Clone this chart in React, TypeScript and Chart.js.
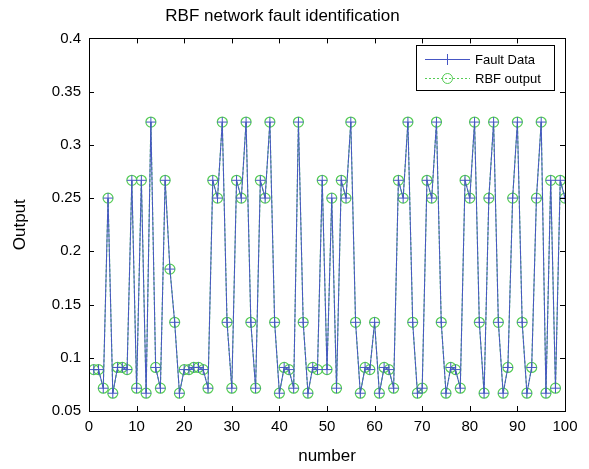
import React, { useEffect, useRef } from "react";
import { Chart, registerables } from "chart.js";

Chart.register(...registerables);

const numbers: number[] = Array.from({ length: 100 }, (_, i) => i + 1);

const faultData: number[] = [
  0.0889, 0.0889, 0.0714, 0.25, 0.0667, 0.0909, 0.0909, 0.0889, 0.2667, 0.0714,
  0.2667, 0.0667, 0.3214, 0.0909, 0.0714, 0.2667, 0.1833, 0.1333, 0.0667, 0.0889,
  0.0889, 0.0909, 0.0909, 0.0889, 0.0714, 0.2667, 0.25, 0.3214, 0.1333, 0.0714,
  0.2667, 0.25, 0.3214, 0.1333, 0.0714, 0.2667, 0.25, 0.3214, 0.1333, 0.0667,
  0.0909, 0.0889, 0.0714, 0.3214, 0.1333, 0.0667, 0.0909, 0.0889, 0.2667, 0.0889,
  0.25, 0.0714, 0.2667, 0.25, 0.3214, 0.1333, 0.0667, 0.0909, 0.0889, 0.1333,
  0.0667, 0.0909, 0.0889, 0.0714, 0.2667, 0.25, 0.3214, 0.1333, 0.0667, 0.0714,
  0.2667, 0.25, 0.3214, 0.1333, 0.0667, 0.0909, 0.0889, 0.0714, 0.2667, 0.25,
  0.3214, 0.1333, 0.0667, 0.25, 0.3214, 0.1333, 0.0667, 0.0909, 0.25, 0.3214,
  0.1333, 0.0667, 0.0909, 0.25, 0.3214, 0.0667, 0.2667, 0.0714, 0.2667, 0.25,
];

const rbfOutput: number[] = [
  0.0889, 0.0889, 0.0714, 0.25, 0.0667, 0.0909, 0.0909, 0.0889, 0.2667, 0.0714,
  0.2667, 0.0667, 0.3214, 0.0909, 0.0714, 0.2667, 0.1833, 0.1333, 0.0667, 0.0889,
  0.0889, 0.0909, 0.0909, 0.0889, 0.0714, 0.2667, 0.25, 0.3214, 0.1333, 0.0714,
  0.2667, 0.25, 0.3214, 0.1333, 0.0714, 0.2667, 0.25, 0.3214, 0.1333, 0.0667,
  0.0909, 0.0889, 0.0714, 0.3214, 0.1333, 0.0667, 0.0909, 0.0889, 0.2667, 0.0889,
  0.25, 0.0714, 0.2667, 0.25, 0.3214, 0.1333, 0.0667, 0.0909, 0.0889, 0.1333,
  0.0667, 0.0909, 0.0889, 0.0714, 0.2667, 0.25, 0.3214, 0.1333, 0.0667, 0.0714,
  0.2667, 0.25, 0.3214, 0.1333, 0.0667, 0.0909, 0.0889, 0.0714, 0.2667, 0.25,
  0.3214, 0.1333, 0.0667, 0.25, 0.3214, 0.1333, 0.0667, 0.0909, 0.25, 0.3214,
  0.1333, 0.0667, 0.0909, 0.25, 0.3214, 0.0667, 0.2667, 0.0714, 0.2667, 0.25,
];

const xTicks: number[] = [0, 10, 20, 30, 40, 50, 60, 70, 80, 90, 100];
const yTicks: number[] = [0.05, 0.1, 0.15, 0.2, 0.25, 0.3, 0.35, 0.4];

const titleText = "RBF network fault identification";
const xLabel = "number";
const yLabel = "Output";
const seriesNames = ["Fault Data", "RBF output"];

const BLUE = "#4656c4";
const GREEN = "#55cc55";
const FONT = "'Liberation Sans', Arial, sans-serif";

export default function App() {
  const ref = useRef<HTMLCanvasElement | null>(null);

  useEffect(() => {
    const canvas = ref.current;
    if (!canvas) return;

    const framePlugin = {
      id: "frame",
      afterDraw(chart: any) {
        const { ctx, chartArea } = chart;
        const { left, right, top, bottom } = chartArea;
        const xs = chart.scales.x;
        const ys = chart.scales.y;
        ctx.save();
        ctx.strokeStyle = "#000";
        ctx.lineWidth = 1;
        ctx.strokeRect(Math.round(left) + 0.5, Math.round(top) + 0.5, Math.round(right - left), Math.round(bottom - top));
        const tl = 5;
        ctx.beginPath();
        xTicks.forEach((v) => {
          const px = Math.round(xs.getPixelForValue(v)) + 0.5;
          ctx.moveTo(px, bottom);
          ctx.lineTo(px, bottom - tl);
          ctx.moveTo(px, top);
          ctx.lineTo(px, top + tl);
        });
        yTicks.forEach((v) => {
          const py = Math.round(ys.getPixelForValue(v)) + 0.5;
          ctx.moveTo(left, py);
          ctx.lineTo(left + tl, py);
          ctx.moveTo(right, py);
          ctx.lineTo(right - tl, py);
        });
        ctx.stroke();

        // legend box
        const bx = 416, by = 45, bw = 138, bh = 45;
        ctx.fillStyle = "#fff";
        ctx.fillRect(bx, by, bw, bh);
        ctx.strokeStyle = "#000";
        ctx.strokeRect(bx + 0.5, by + 0.5, bw, bh);
        const rows = [59, 78];
        ctx.strokeStyle = BLUE;
        ctx.lineWidth = 1;
        ctx.beginPath();
        ctx.moveTo(425, rows[0] + 0.5);
        ctx.lineTo(470, rows[0] + 0.5);
        ctx.moveTo(447.5, rows[0] - 5);
        ctx.lineTo(447.5, rows[0] + 6);
        ctx.stroke();
        ctx.strokeStyle = GREEN;
        ctx.setLineDash([2, 2]);
        ctx.beginPath();
        ctx.moveTo(425, rows[1] + 0.5);
        ctx.lineTo(470, rows[1] + 0.5);
        ctx.stroke();
        ctx.setLineDash([]);
        ctx.beginPath();
        ctx.arc(447.5, rows[1] + 0.5, 5, 0, Math.PI * 2);
        ctx.stroke();
        ctx.fillStyle = "#000";
        ctx.font = `13px ${FONT}`;
        ctx.textBaseline = "middle";
        ctx.textAlign = "left";
        ctx.fillText(seriesNames[0], 475, rows[0] + 1);
        ctx.fillText(seriesNames[1], 475, rows[1] + 1);
        ctx.restore();
      },
    };

    const chart = new Chart(canvas, {
      type: "line",
      data: {
        labels: numbers,
        datasets: [
          {
            label: seriesNames[0],
            data: numbers.map((n, i) => ({ x: n, y: faultData[i] })),
            borderColor: BLUE,
            backgroundColor: BLUE,
            borderWidth: 1,
            pointStyle: "cross",
            pointRadius: 5,
            pointBorderColor: BLUE,
            pointBorderWidth: 1,
            tension: 0,
          },
          {
            label: seriesNames[1],
            data: numbers.map((n, i) => ({ x: n, y: rbfOutput[i] })),
            borderColor: GREEN,
            backgroundColor: "rgba(0,0,0,0)",
            borderWidth: 1.2,
            borderDash: [3, 2],
            pointStyle: "circle",
            pointRadius: 5,
            pointBorderColor: GREEN,
            pointBackgroundColor: "rgba(0,0,0,0)",
            pointBorderWidth: 1.2,
            tension: 0,
          },
        ],
      },
      options: {
        animation: false,
        responsive: false,
        maintainAspectRatio: false,
        layout: { padding: { left: 0, right: 24, top: 0, bottom: 0 } },
        plugins: {
          legend: { display: false },
          tooltip: { enabled: false },
          title: {
            display: true,
            text: titleText,
            color: "#000",
            font: { family: FONT, size: 17, weight: "normal" },
            padding: { top: 6, bottom: 12 },
          },
        },
        scales: {
          x: {
            type: "linear",
            min: 0,
            max: 100,
            afterFit(scale: any) {
              scale.height = 58;
            },
            afterBuildTicks(scale: any) {
              scale.ticks = xTicks.map((v) => ({ value: v }));
            },
            grid: { display: false, drawTicks: false },
            border: { display: false },
            ticks: {
              color: "#000",
              font: { family: FONT, size: 15 },
              padding: 7,
              maxRotation: 0,
              autoSkip: false,
            },
            title: {
              display: true,
              text: xLabel,
              color: "#000",
              font: { family: FONT, size: 17 },
              padding: { top: 0, bottom: 2 },
            },
          },
          y: {
            type: "linear",
            min: 0.05,
            max: 0.4,
            afterFit(scale: any) {
              scale.width = 89;
            },
            afterBuildTicks(scale: any) {
              scale.ticks = yTicks.map((v) => ({ value: v }));
            },
            grid: { display: false, drawTicks: false },
            border: { display: false },
            ticks: {
              color: "#000",
              font: { family: FONT, size: 15 },
              padding: 8,
              autoSkip: false,
              callback: (v: any) => String(Number(Number(v).toFixed(2))),
            },
            title: {
              display: true,
              text: yLabel,
              color: "#000",
              font: { family: FONT, size: 17 },
              padding: { top: 10, bottom: 0 },
            },
          },
        },
      },
      plugins: [framePlugin],
    } as any);

    return () => chart.destroy();
  }, []);

  return (
    <div style={{ position: "fixed", left: 0, top: 0, width: 589, height: 469, background: "#fff" }}>
      <canvas ref={ref} width={589} height={469} style={{ display: "block" }} />
    </div>
  );
}
